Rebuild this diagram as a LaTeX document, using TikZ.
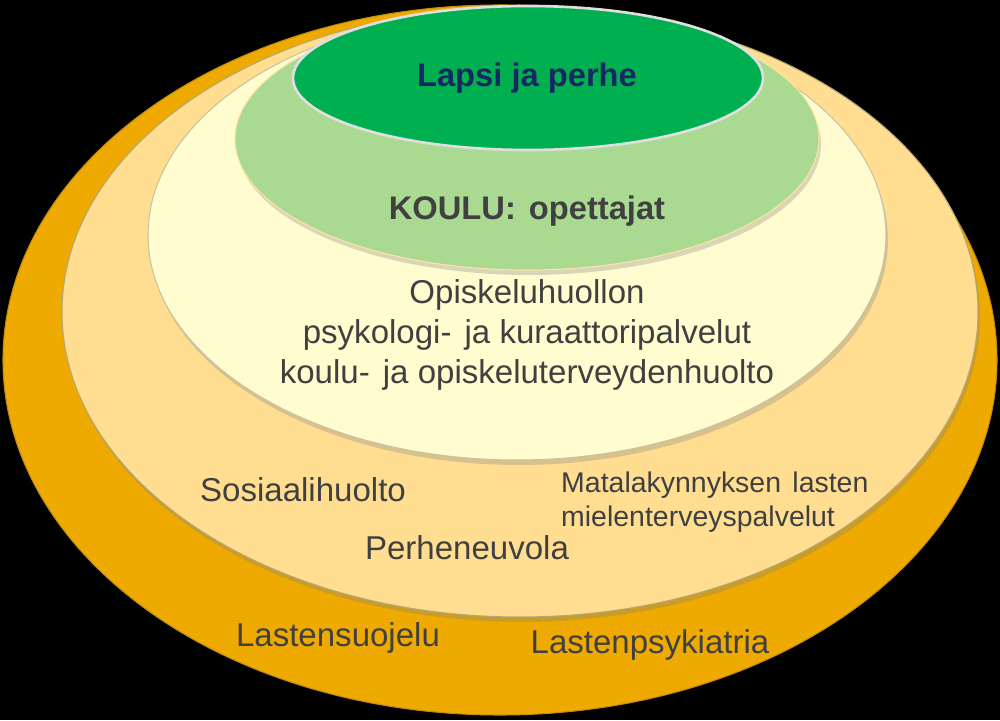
\documentclass[tikz,border=0pt]{standalone}
\usepackage{fontspec}
\setmainfont{Liberation Sans}
\usetikzlibrary{shadows}
\definecolor{kulta}{RGB}{238,170,0}
\definecolor{kultareuna}{RGB}{196,140,10}
\definecolor{oranssi}{RGB}{255,222,146}
\definecolor{oranssireuna}{RGB}{178,166,120}
\definecolor{kerma}{RGB}{255,252,208}
\definecolor{vaaleavihrea}{RGB}{170,218,145}
\definecolor{vihrea}{RGB}{0,176,80}
\definecolor{tumma}{RGB}{64,64,64}
\definecolor{laivasto}{RGB}{22,40,100}
\tikzset{
  kehä/.style={line width=0.6pt},
  varjo/.style={drop shadow={shadow xshift=0.4mm,shadow yshift=-1mm,opacity=0.3}},
  teksti/.style={text=tumma,font=\fontsize{18.8}{22.8}\selectfont,align=center},
  pieni/.style={text=tumma,font=\fontsize{16.2}{19.4}\selectfont,align=left}
}
\newcommand{\levea}{\ \hspace{0.12em}}
\begin{document}
\begin{tikzpicture}
\fill[black](0,0)rectangle(20,14.4);
\useasboundingbox (0,0) rectangle (20,14.4);
% renkaat ulkoa sisaan
\filldraw[kehä,fill=kulta,draw=kultareuna](10,7.2) ellipse [x radius=9.94,y radius=7.1];
\filldraw[kehä,fill=oranssi,draw=oranssireuna,varjo](10.4,8.16) ellipse [x radius=9.16,y radius=6.1];
\filldraw[kehä,fill=kerma,draw=oranssireuna!70,varjo](10.34,9.7) ellipse [x radius=7.38,y radius=4.5];
\filldraw[kehä,fill=vaaleavihrea,draw=kerma!80!orange,varjo](10.54,11.62) ellipse [x radius=5.84,y radius=2.62];
\filldraw[line width=1.5pt,fill=vihrea,draw=gray!25](10.56,12.84) ellipse [x radius=4.7,y radius=1.44];
% tekstit
\node[text=laivasto,font=\fontsize{18.6}{22}\selectfont\bfseries] (lapsi) at (10.54,12.84) {Lapsi ja perhe};
\node[teksti,font=\fontsize{18.6}{22}\selectfont\bfseries] (koulu) at (10.54,10.18) {KOULU:\levea opettajat};
\node[teksti] (huolto) at (10.54,7.7) {Opiskeluhuollon\\psykologi-\levea ja kuraattoripalvelut\\koulu-\levea ja opiskeluterveydenhuolto};
\node[teksti] (sosiaali) at (6.06,4.6) {Sosiaalihuolto};
\node[pieni,anchor=west] (matala) at (11.1,4.36) {Matalakynnyksen\levea lasten\\mielenterveyspalvelut};
\node[teksti] (perhe) at (9.34,3.44) {Perheneuvola};
\node[teksti] (suojelu) at (6.76,1.64) {Lastensuojelu};
\node[teksti] (psykiatria) at (13.0,1.5) {Lastenpsykiatria};
\end{tikzpicture}
\end{document}
